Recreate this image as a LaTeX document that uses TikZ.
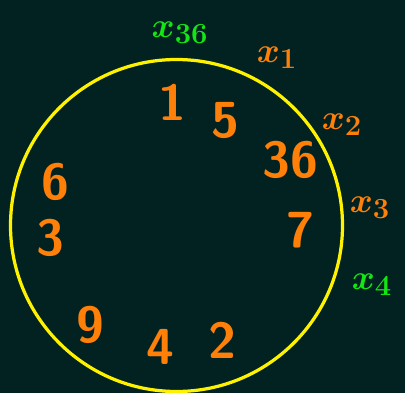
\documentclass[tikz,border=0pt]{standalone}
\usepackage{tikz}
\usetikzlibrary{positioning}

\definecolor{board}{RGB}{2,34,34}
\definecolor{chalkorange}{RGB}{255,128,8}
\definecolor{chalkgreen}{RGB}{20,230,20}

\tikzset{
  num/.style={text=chalkorange,font=\sffamily\bfseries\fontsize{36}{38}\selectfont,inner sep=0pt},
  lbl/.style={font=\boldmath\fontsize{32}{34}\selectfont,inner sep=0pt},
}

\begin{document}
\begin{tikzpicture}[x=0.025cm,y=-0.025cm]
  \fill[board] (0,0) rectangle (405,393);
  \useasboundingbox (0,0) rectangle (405,393);
  \draw[yellow,line width=2.3pt] (176.5,225.5) circle[radius=166];
  % numbers inside the ring
  \foreach \t/\x/\y in {1/172/102,5/225/120,36/290/160,7/300/230,6/55/182,3/50/238,9/90/325,4/160/347,2/222/340}{
    \node[num] (n\t) at (\x,\y) {\t};
  }
  % labels round the ring
  \node[lbl,text=chalkgreen] (x36) at (180,33) {$x_{36}$};
  \node[lbl,text=chalkorange] (x1) at (277,58) {$x_1$};
  \node[lbl,text=chalkorange] (x2) at (342,125) {$x_2$};
  \node[lbl,text=chalkorange] (x3) at (370,208) {$x_3$};
  \node[lbl,text=chalkgreen] (x4) at (372,285) {$x_4$};
\end{tikzpicture}
\end{document}
